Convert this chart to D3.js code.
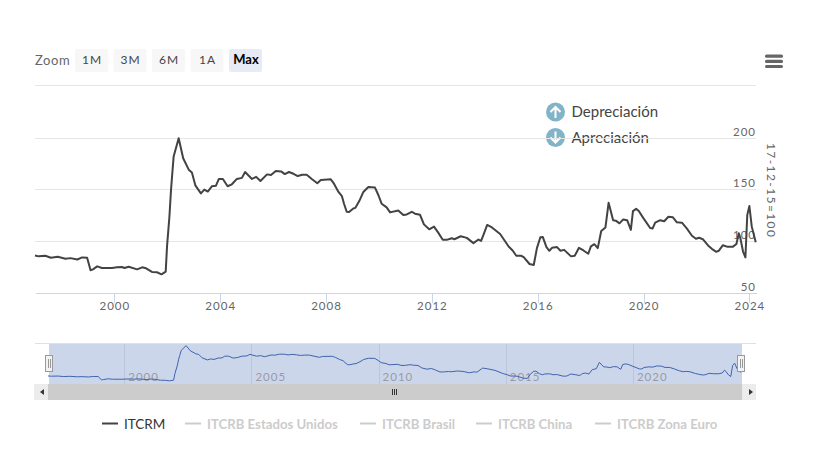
<!DOCTYPE html>
<html>
<head>
<meta charset="utf-8">
<script src="https://cdnjs.cloudflare.com/ajax/libs/d3/7.8.5/d3.min.js"></script>
<style>
  html, body { margin: 0; padding: 0; background: #fff; }
  svg { display: block; font-family: Lato, sans-serif; }
  .axis path, .axis line { shape-rendering: crispEdges; }
</style>
</head>
<body>
<div id="chart"></div>
<script>
// ITCRM series, decimal years and index values
var years = [1997.0, 1997.14, 1997.39, 1997.6, 1997.86, 1998.15, 1998.34, 1998.6, 1998.78, 1998.97,
    1999.1, 1999.19, 1999.35, 1999.53, 1999.91, 2000.1, 2000.29, 2000.38, 2000.54, 2000.86,
    2001.05, 2001.2, 2001.42, 2001.61, 2001.78, 2001.94, 2001.99, 2002.08, 2002.14, 2002.18,
    2002.24, 2002.43, 2002.6, 2002.81, 2002.93, 2003.06, 2003.27, 2003.4, 2003.53, 2003.69,
    2003.84, 2003.95, 2004.1, 2004.28, 2004.44, 2004.63, 2004.82, 2004.94, 2005.2, 2005.36,
    2005.52, 2005.77, 2005.92, 2006.1, 2006.3, 2006.44, 2006.6, 2006.77, 2006.93, 2007.1,
    2007.27, 2007.46, 2007.67, 2007.8, 2008.18, 2008.3, 2008.47, 2008.6, 2008.68, 2008.78,
    2008.87, 2009.03, 2009.11, 2009.26, 2009.41, 2009.6, 2009.85, 2009.98, 2010.1, 2010.29,
    2010.42, 2010.73, 2010.92, 2011.05, 2011.24, 2011.36, 2011.55, 2011.7, 2011.9, 2012.08,
    2012.24, 2012.41, 2012.56, 2012.75, 2012.85, 2013.09, 2013.32, 2013.57, 2013.76, 2013.86,
    2013.95, 2014.09, 2014.27, 2014.58, 2014.9, 2015.06, 2015.19, 2015.37, 2015.47, 2015.69,
    2015.85, 2015.97, 2016.1, 2016.19, 2016.33, 2016.44, 2016.54, 2016.73, 2016.86, 2017.0,
    2017.26, 2017.4, 2017.56, 2017.73, 2017.91, 2018.01, 2018.14, 2018.27, 2018.4, 2018.56,
    2018.68, 2018.85, 2018.95, 2019.09, 2019.23, 2019.38, 2019.52, 2019.6, 2019.72, 2019.82,
    2020.0, 2020.25, 2020.34, 2020.44, 2020.63, 2020.78, 2020.94, 2021.11, 2021.26, 2021.45,
    2021.64, 2021.83, 2021.98, 2022.1, 2022.24, 2022.46, 2022.58, 2022.75, 2022.84, 2023.0,
    2023.18, 2023.37, 2023.51, 2023.6, 2023.66, 2023.76, 2023.85, 2023.92, 2024.0, 2024.09, 2024.24];

var itcrm = [85.9, 85, 85.6, 83.7, 84.6, 82.7, 83.3, 82, 84, 83.7,
    71.5, 72.4, 75.3, 73.7, 73.7, 74.4, 74.7, 73.7, 75, 72.4,
    74.4, 73.4, 69.9, 69.6, 67.6, 70.2, 94.6, 123.4, 149, 162.4,
    181.8, 199.4, 180, 169, 166.3, 153.8, 146, 149.7, 147.8, 153,
    153.5, 160, 160, 152.9, 154.8, 160, 161, 166.7, 160, 162,
    158, 164.4, 163.8, 167.6, 167.3, 164.7, 166.7, 165, 162.8, 164,
    164, 160, 155.8, 159, 159.6, 155.4, 147.4, 143.3, 136, 128.2,
    127.9, 131.4, 132, 138.8, 147.4, 152.2, 151.6, 144.2, 136, 132.4,
    127.6, 129.5, 125, 125.6, 128.2, 126.3, 125.3, 116, 111.2, 113.8,
    108, 101, 101, 102.6, 101.6, 104.5, 102.9, 97.8, 101.3, 100,
    105.8, 115.4, 113, 106.7, 94.6, 90.4, 85.6, 85.6, 84.3, 77.6,
    76.6, 93, 103.5, 103.8, 94, 90.4, 93.3, 94, 90.4, 91.3,
    85, 85.6, 93.3, 90.7, 87.5, 94.6, 96.8, 93, 109.6, 113,
    137, 120, 119.6, 117, 120.8, 120, 110.6, 128.8, 131, 129,
    121.8, 112.5, 112, 117.6, 120, 119, 123.4, 122.8, 118, 117.6,
    111.9, 105, 102, 103, 101.6, 95, 92.3, 89.4, 90.4, 95.8,
    94.2, 94.2, 97, 107.4, 102.6, 89.7, 84, 125, 133.7, 113.8, 98.7];

var xTicks = [2000, 2004, 2008, 2012, 2016, 2020, 2024];
var yTicks = [50, 100, 150, 200];
var navTicks = [2000, 2005, 2010, 2015, 2020];
var zoomLabels = ["1M", "3M", "6M", "1A", "Max"];
var legendNames = ["ITCRM", "ITCRB Estados Unidos", "ITCRB Brasil", "ITCRB China", "ITCRB Zona Euro"];
var legendStarts = [102, 185, 360, 476, 595];
var notes = ["Depreciación", "Apreciación"];

var width = 830,
    height = 449;

var svg = d3.select("#chart").append("svg").
    attr("width", width).
    attr("height", height);

var x = d3.scaleLinear().domain([1997, 2024.25]).range([35, 756]),
    y = d3.scaleLinear().domain([50, 250]).range([292.5, 86]),
    xNav = d3.scaleLinear().domain([1997, 2024.25]).range([48, 741]),
    yNav = d3.scaleLinear().domain([67, 200]).range([381, 345.5]);

var line = d3.line().
    x(function(d, i) { return x(years[i]); }).
    y(function(d) { return y(d); });

var navLine = d3.line().
    x(function(d, i) { return xNav(years[i]); }).
    y(function(d) { return yNav(d); });

// zoom buttons
svg.append("text").
    attr("x", 35).
    attr("y", 65).
    attr("fill", "#666").
    style("font-size", "13px").
    style("letter-spacing", "0.6px").
    text("Zoom");

var buttons = svg.selectAll(".btn").
    data(zoomLabels).
    enter().
    append("g").
    attr("class", "btn").
    attr("transform", function(d, i) { return "translate(" + (75 + i * 38.5) + ",49)"; });

buttons.append("rect").
    attr("width", 33).
    attr("height", 23).
    attr("rx", 2).
    attr("fill", function(d) { return d == "Max" ? "#e6ebf5" : "#f7f7f7"; });

buttons.append("text").
    attr("x", 17).
    attr("y", 15).
    attr("text-anchor", "middle").
    attr("fill", function(d) { return d == "Max" ? "#000" : "#444"; }).
    style("font-size", function(d) { return d == "Max" ? "13px" : "12px"; }).
    style("font-weight", function(d) { return d == "Max" ? "bold" : "normal"; }).
    style("letter-spacing", function(d) { return d == "Max" ? "0" : "1px"; }).
    text(function(d) { return d; });

// export menu icon
svg.selectAll(".burger").
    data([0, 1, 2]).
    enter().
    append("rect").
    attr("class", "burger").
    attr("x", 765).
    attr("y", function(d) { return 54.5 + d * 5.2; }).
    attr("width", 18).
    attr("height", 3.2).
    attr("rx", 1.5).
    attr("fill", "#666");

// depreciation / appreciation note, it sits under the grid
var note = svg.selectAll(".note").
    data(notes).
    enter().
    append("g").
    attr("class", "note").
    attr("transform", function(d, i) { return "translate(555.5," + (112 + i * 25.5) + ")"; });

note.append("circle").
    attr("r", 9.5).
    attr("fill", "#82b4c8");

note.append("path").
    attr("d", function(d, i) {
        return i == 0 ? "M0,6V-5M-5,0L0,-5L5,0" : "M0,-6V5M-5,0L0,5L5,0";
    }).
    attr("fill", "none").
    attr("stroke", "#fff").
    attr("stroke-width", 2);

note.append("text").
    attr("x", 16).
    attr("y", 5).
    attr("fill", "#444").
    style("font-size", "15px").
    text(function(d) { return d; });

// grid, the top line is the plot border
svg.append("line").
    attr("x1", 35).
    attr("x2", 756).
    attr("y1", 85.5).
    attr("y2", 85.5).
    attr("stroke", "#e6e6e6");

svg.selectAll(".grid").
    data(yTicks.slice(1)).
    enter().
    append("line").
    attr("class", "grid").
    attr("x1", 35).
    attr("x2", 756).
    attr("y1", function(d) { return Math.round(y(d)) + 0.5; }).
    attr("y2", function(d) { return Math.round(y(d)) + 0.5; }).
    attr("stroke", "#e6e6e6");

// x axis
var gx = svg.append("g").
    attr("class", "axis axis--x").
    attr("transform", "translate(0,292.5)").
    call(d3.axisBottom(x).
        tickValues(xTicks).
        tickFormat(d3.format("d")).
        tickSize(10).
        tickSizeOuter(0));

gx.select(".domain").attr("stroke", "#ccd6eb");
gx.selectAll("line").attr("stroke", "#ccd6eb");
gx.selectAll("text").
    attr("fill", "#666").
    attr("y", 9).
    attr("dy", "0.71em").
    style("font-family", "Lato, sans-serif").
    style("font-size", "11.5px").
    style("letter-spacing", "1px");

// y labels are drawn inside the plot on the right
svg.selectAll(".ylabel").
    data(yTicks).
    enter().
    append("text").
    attr("class", "ylabel").
    attr("x", 756).
    attr("y", function(d) { return y(d) - 2; }).
    attr("text-anchor", "end").
    attr("fill", "#666").
    style("font-size", "11.5px").
    style("letter-spacing", "1px").
    text(function(d) { return d; });

svg.append("text").
    attr("transform", "translate(767,143) rotate(90)").
    attr("fill", "#666").
    style("font-size", "12px").
    style("letter-spacing", "1.4px").
    text("17-12-15=100");

// series
svg.append("path").
    datum(itcrm).
    attr("d", line).
    attr("fill", "none").
    attr("stroke", "#434343").
    attr("stroke-width", 2).
    attr("stroke-linejoin", "round");

// navigator
svg.append("line").
    attr("x1", 35).
    attr("x2", 756).
    attr("y1", 343.5).
    attr("y2", 343.5).
    attr("stroke", "#e0e0e0");

svg.append("rect").
    attr("x", 49).
    attr("y", 344).
    attr("width", 693).
    attr("height", 40).
    attr("fill", "#ccd6eb");

var navAxis = svg.append("g").
    attr("class", "axis axis--nav").
    attr("transform", "translate(0,344)");

navAxis.selectAll("line").
    data(navTicks).
    enter().
    append("line").
    attr("x1", function(d) { return Math.round(xNav(d)) + 0.5; }).
    attr("x2", function(d) { return Math.round(xNav(d)) + 0.5; }).
    attr("y1", 0).
    attr("y2", 40).
    attr("stroke", "#bcc5da");

navAxis.selectAll("text").
    data(navTicks).
    enter().
    append("text").
    attr("x", function(d) { return xNav(d) + 4; }).
    attr("y", 36.5).
    attr("fill", "#9a9aa5").
    style("font-size", "11.5px").
    style("letter-spacing", "1px").
    text(function(d) { return d; });

svg.append("path").
    datum(itcrm).
    attr("d", navLine).
    attr("fill", "none").
    attr("stroke", "#3f63ad").
    attr("stroke-width", 1);

// scrollbar
svg.append("rect").
    attr("x", 34).
    attr("y", 384).
    attr("width", 722).
    attr("height", 16).
    attr("fill", "#cccccc");

[[34, "M44,389v6l-4,-3z"], [742, "M749,389v6l4,-3z"]].forEach(function(b) {
    svg.append("rect").
        attr("x", b[0]).
        attr("y", 384).
        attr("width", 14).
        attr("height", 16).
        attr("fill", "#ececec");
    svg.append("path").
        attr("d", b[1]).
        attr("fill", "#333");
});

svg.selectAll(".grip").
    data([-2, 0, 2]).
    enter().
    append("rect").
    attr("class", "grip").
    attr("x", function(d) { return 394 + d; }).
    attr("y", 389).
    attr("width", 1).
    attr("height", 6).
    attr("fill", "#333");

// navigator handles
[49, 741].forEach(function(px) {
    svg.append("rect").
        attr("x", px - 3.5).
        attr("y", 355.5).
        attr("width", 7).
        attr("height", 16).
        attr("fill", "#f2f2f2").
        attr("stroke", "#999");
    svg.selectAll(".handle" + px).
        data([-1, 1]).
        enter().
        append("line").
        attr("x1", function(d) { return px + d + 0.5; }).
        attr("x2", function(d) { return px + d + 0.5; }).
        attr("y1", 359).
        attr("y2", 368).
        attr("stroke", "#999");
});

// legend
var legend = svg.selectAll(".legend").
    data(legendNames).
    enter().
    append("g").
    attr("class", "legend").
    attr("transform", function(d, i) { return "translate(" + legendStarts[i] + ",423.5)"; });

legend.append("line").
    attr("x2", 16).
    attr("stroke", function(d, i) { return i == 0 ? "#434343" : "#cccccc"; }).
    attr("stroke-width", 2);

legend.append("text").
    attr("x", 22).
    attr("y", 5).
    attr("fill", function(d, i) { return i == 0 ? "#333" : "#cccccc"; }).
    style("font-size", function(d, i) { return i == 0 ? "13.5px" : "13.2px"; }).
    style("font-weight", function(d, i) { return i == 0 ? "normal" : "bold"; }).
    text(function(d) { return d; });
</script>
</body>
</html>
